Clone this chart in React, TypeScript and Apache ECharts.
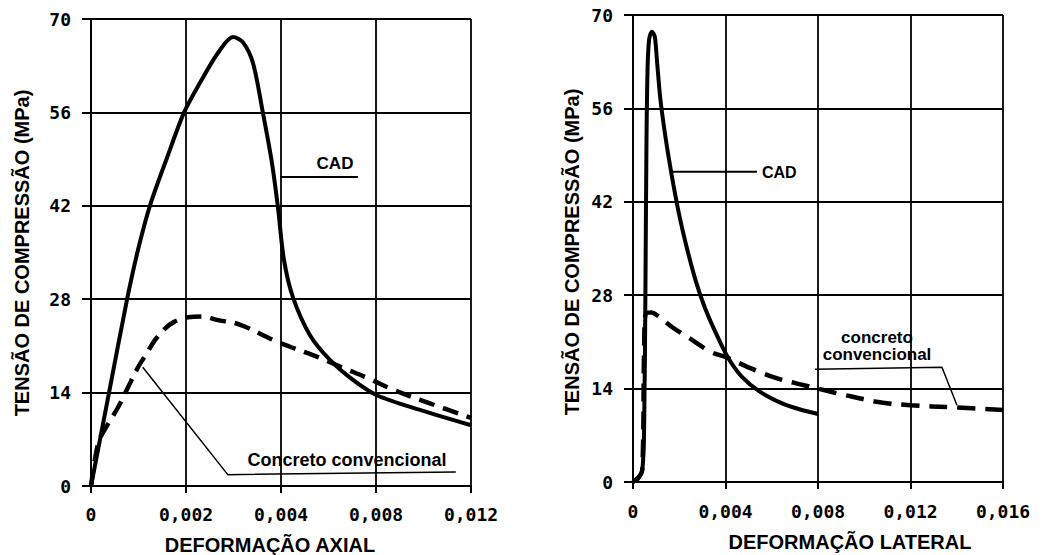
import React, { useEffect, useRef } from "react";
import * as echarts from "echarts";

// ---------- data ----------
const leftXTicks = [0, 0.002, 0.004, 0.008, 0.012];
const leftXLabels = ["0", "0,002", "0,004", "0,008", "0,012"];
const yTicks = [0, 14, 28, 42, 56, 70];

// Left: stress (MPa) vs axial strain
const axialCAD: [number, number][] = [
  [0, 0], [0.00038, 14], [0.00076, 28], [0.00099, 35.4], [0.00124, 42], [0.0016, 49.2],
  [0.00196, 56], [0.00229, 60.4], [0.0027, 65.2], [0.00299, 67.3], [0.0032, 66.5],
  [0.00341, 63.4], [0.00362, 55.9], [0.00381, 48.4], [0.00394, 41.5], [0.00412, 34.0],
  [0.0045, 28.3], [0.00522, 22.6], [0.00606, 18.9], [0.00703, 15.9],
  [0.00804, 13.6], [0.00985, 11.4], [0.012, 9.1],
];
const axialConv: [number, number][] = [
  [0, 0], [0.00015, 6.4], [0.0003, 8.6], [0.00057, 11.8], [0.00078, 14.8], [0.00099, 17.8],
  [0.00114, 19.5], [0.00135, 21.9], [0.00156, 23.6], [0.00175, 24.6], [0.00204, 25.3],
  [0.00235, 25.4], [0.00265, 24.9], [0.00313, 24.2], [0.00383, 21.9], [0.00451, 20.7],
  [0.00565, 19.2], [0.00662, 17.7], [0.00764, 16.2], [0.00874, 14.4], [0.01018, 12.5],
  [0.012, 10.2],
];

// Right: stress (MPa) vs lateral strain
const lateralCAD: [number, number][] = [
  [0, 0], [0.0002, 0.4], [0.0004, 1.8], [0.00048, 8], [0.00054, 30], [0.00058, 50],
  [0.00063, 62], [0.0007, 66.4], [0.00082, 67.5], [0.00094, 66.8], [0.00104, 63],
  [0.00118, 57.5], [0.00135, 53], [0.00155, 48.5], [0.00175, 44.5], [0.002, 40],
  [0.0023, 35.5], [0.0027, 30.3], [0.0031, 26.2], [0.0036, 22.2], [0.0041, 18.7],
  [0.0047, 15.8], [0.0055, 13.5], [0.0065, 11.7], [0.0072, 10.9], [0.008, 10.2],
];
const lateralConv: [number, number][] = [
  [0, 0], [0.0004, 1.8], [0.00048, 20], [0.00056, 25.3], [0.0008, 25.4], [0.00104, 25],
  [0.0017, 23.2], [0.00242, 21.6], [0.00337, 19.5], [0.0041, 18.6], [0.00505, 17.1],
  [0.00617, 15.6], [0.0074, 14.5], [0.008, 14.0], [0.0092, 13.0], [0.0106, 12.0],
  [0.012, 11.5], [0.0138, 11.2], [0.016, 10.8],
];

// annotation leader lines (data coordinates)
const leftCADLeader: [number, number][] = [[0.00398, 46.3], [0.00724, 46.3]];
const leftConvLeader: [number, number][] = [[0.00109, 17.8], [0.00288, 1.7], [0.01136, 2.1]];
const rightCADLeader: [number, number][] = [[0.00173, 46.5], [0.00536, 46.5]];
const rightConvLeader: [number, number][] = [[0.00787, 16.9], [0.01336, 17.2], [0.01401, 11.5]];

// ---------- helpers ----------
// the left x axis has equally spaced but non-uniform ticks: piecewise linear scale
function toPos(s: number): number {
  for (let i = 0; i < leftXTicks.length - 1; i++) {
    const a = leftXTicks[i], b = leftXTicks[i + 1];
    if (s <= b || i === leftXTicks.length - 2) return i + (s - a) / (b - a);
  }
  return 0;
}
const mapLeft = (d: [number, number][]) => d.map(([x, y]) => [toPos(x), y]);

const TICK_FONT = '"DejaVu Sans Mono", "Liberation Mono", monospace';
const TEXT_FONT = '"Liberation Sans", Arial, sans-serif';

function xAxisBase(extra: any) {
  return {
    type: "value",
    axisLine: { show: true, onZero: false, lineStyle: { color: "#000", width: 2 } },
    axisTick: { show: true, inside: false, length: 7, lineStyle: { color: "#000", width: 2 } },
    splitLine: { show: true, lineStyle: { color: "#000", width: 1.8 } },
    ...extra,
  };
}
function yAxisBase(gridIndex: number) {
  return {
    type: "value",
    gridIndex,
    min: yTicks[0],
    max: yTicks[yTicks.length - 1],
    interval: 14,
    axisLine: { show: true, onZero: false, lineStyle: { color: "#000", width: 2 } },
    axisTick: { show: true, inside: false, length: 9, lineStyle: { color: "#000", width: 2 } },
    splitLine: { show: true, lineStyle: { color: "#000", width: 1.8 } },
    axisLabel: {
      color: "#000", fontFamily: TICK_FONT, fontWeight: "bold", fontSize: 18, margin: 20,
    },
  };
}

function lineSeries(data: any, xi: number, style: any, smooth: number | boolean = 0.4) {
  return {
    type: "line",
    xAxisIndex: xi,
    yAxisIndex: xi,
    data,
    showSymbol: false,
    symbol: "none",
    smooth,
    silent: true,
    lineStyle: { color: "#000", ...style },
    z: 5,
  };
}

export default function App() {
  const ref = useRef<HTMLDivElement>(null);
  useEffect(() => {
    if (!ref.current) return;
    const chart = echarts.init(ref.current, undefined, { renderer: "svg" });
    const option: any = {
      animation: false,
      backgroundColor: "#fff",
      grid: [
        { left: 91, top: 19, width: 380, height: 467 },
        { left: 633, top: 15, width: 370, height: 467 },
      ],
      xAxis: [
        xAxisBase({
          gridIndex: 0, min: 0, max: leftXTicks.length - 1, interval: 1,
          axisLabel: {
            color: "#000", fontFamily: TICK_FONT, fontWeight: "bold", fontSize: 18, margin: 19,
            formatter: (v: number) => leftXLabels[Math.round(v)] ?? "",
          },
        }),
        xAxisBase({
          gridIndex: 1, min: 0, max: 0.016, interval: 0.004,
          axisLabel: {
            color: "#000", fontFamily: TICK_FONT, fontWeight: "bold", fontSize: 18, margin: 20,
            formatter: (v: number) => (v === 0 ? "0" : v.toFixed(3).replace(".", ",")),
          },
        }),
      ],
      yAxis: [yAxisBase(0), yAxisBase(1)],
      series: [
        lineSeries(mapLeft(axialCAD), 0, { width: 4 }, 0.3),
        lineSeries(mapLeft(axialConv), 0, { width: 4.5, type: [16, 9] }, 0.35),
        lineSeries(mapLeft(leftCADLeader), 0, { width: 2 }, false),
        lineSeries(mapLeft(leftConvLeader), 0, { width: 1.5 }, false),
        lineSeries(lateralCAD, 1, { width: 4 }, 0.3),
        lineSeries(lateralConv, 1, { width: 4.5, type: [18, 10] }, 0.35),
        lineSeries(rightCADLeader, 1, { width: 2 }, false),
        lineSeries(rightConvLeader, 1, { width: 1.5 }, false),
      ],
      graphic: [
        {
          type: "text", x: 22, y: 253, rotation: Math.PI / 2,
          style: { text: "TENSÃO DE COMPRESSÃO (MPa)", font: `bold 20px ${TEXT_FONT}`, align: "center", verticalAlign: "middle", fill: "#000" },
        },
        {
          type: "text", x: 572, y: 252, rotation: Math.PI / 2,
          style: { text: "TENSÃO DE COMPRESSÃO (MPa)", font: `bold 20px ${TEXT_FONT}`, align: "center", verticalAlign: "middle", fill: "#000" },
        },
        {
          type: "text", x: 270, y: 545,
          style: { text: "DEFORMAÇÃO AXIAL", font: `bold 20px ${TEXT_FONT}`, align: "center", verticalAlign: "middle", fill: "#000" },
        },
        {
          type: "text", x: 850, y: 542,
          style: { text: "DEFORMAÇÃO LATERAL", font: `bold 20px ${TEXT_FONT}`, align: "center", verticalAlign: "middle", fill: "#000" },
        },
        {
          type: "text", x: 335, y: 163,
          style: { text: "CAD", font: `bold 17px ${TEXT_FONT}`, align: "center", verticalAlign: "middle", fill: "#000" },
        },
        {
          type: "text", x: 347, y: 460,
          style: { text: "Concreto convencional", font: `bold 18px ${TEXT_FONT}`, align: "center", verticalAlign: "middle", fill: "#000" },
        },
        {
          type: "text", x: 762, y: 172,
          style: { text: "CAD", font: `bold 16px ${TEXT_FONT}`, align: "left", verticalAlign: "middle", fill: "#000" },
        },
        {
          type: "text", x: 877, y: 346,
          style: { text: "concreto\nconvencional", font: `bold 17px ${TEXT_FONT}`, lineHeight: 17, align: "center", verticalAlign: "middle", fill: "#000" },
        },
      ],
    };
    chart.setOption(option);
    return () => chart.dispose();
  }, []);
  return (
    <div
      ref={ref}
      style={{ position: "fixed", left: 0, top: 0, width: 1052, height: 555, background: "#fff" }}
    />
  );
}
